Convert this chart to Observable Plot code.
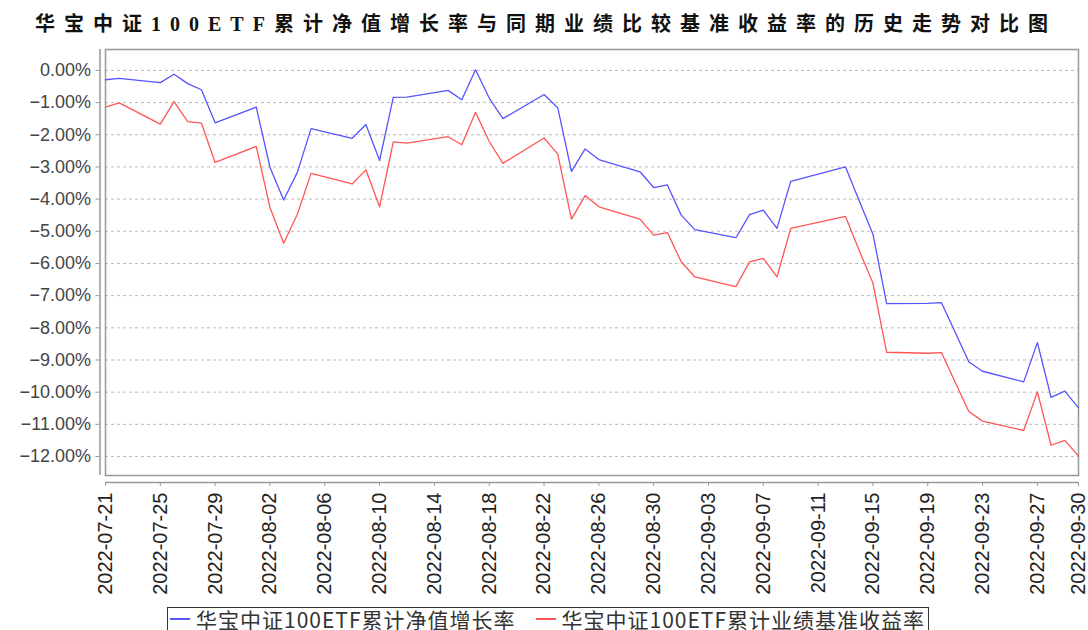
<!DOCTYPE html>
<html>
<head>
<meta charset="utf-8">
<script src="https://cdn.jsdelivr.net/npm/d3@7"></script>
<script src="https://cdn.jsdelivr.net/npm/@observablehq/plot@0.6"></script>
<style>
  html, body { margin: 0; padding: 0; background: #fff; }
  #wrap { position: relative; width: 1088px; height: 630px; overflow: hidden; }
  #title {
    height: 26px; padding-top: 14px; padding-left: 35px;
    font-family: "Liberation Serif", "Noto Sans CJK SC", serif;
    font-weight: 700; font-size: 20px; line-height: 20px; letter-spacing: 9px;
    color: #111; white-space: nowrap;
  }
  #chart svg { display: block; }
  #legend {
    position: absolute; left: 167px; top: 607px; width: 762px; height: 23px;
    border: 1.5px solid #333; border-bottom: none; box-sizing: border-box;
    font-family: "Noto Sans CJK SC", sans-serif; font-size: 21px; line-height: 21px;
    letter-spacing: 1px;
    color: #333; white-space: nowrap; padding: 0 0 0 2px;
  }
  .item { display: inline-flex; align-items: center; position: relative; top: -7px; }
  .sw { display: inline-block; width: 20px; height: 1.6px; margin-right: 6px; }
</style>
</head>
<body>
<div id="wrap">
  <div id="title"></div>
  <div id="chart"></div>
  <div id="legend"></div>
</div>
<script>
const title = "华宝中证100ETF累计净值增长率与同期业绩比较基准收益率的历史走势对比图";
const seriesNames = ["华宝中证100ETF累计净值增长率", "华宝中证100ETF累计业绩基准收益率"];
const seriesColors = ["#5555ff", "#ff5555"];

const dates = [
  "2022-07-21","2022-07-22","2022-07-25","2022-07-26","2022-07-27","2022-07-28","2022-07-29",
  "2022-08-01","2022-08-02","2022-08-03","2022-08-04","2022-08-05",
  "2022-08-08","2022-08-09","2022-08-10","2022-08-11","2022-08-12",
  "2022-08-15","2022-08-16","2022-08-17","2022-08-18","2022-08-19",
  "2022-08-22","2022-08-23","2022-08-24","2022-08-25","2022-08-26",
  "2022-08-29","2022-08-30","2022-08-31","2022-09-01","2022-09-02",
  "2022-09-05","2022-09-06","2022-09-07","2022-09-08","2022-09-09",
  "2022-09-13","2022-09-14","2022-09-15","2022-09-16",
  "2022-09-19","2022-09-20","2022-09-21","2022-09-22","2022-09-23",
  "2022-09-26","2022-09-27","2022-09-28","2022-09-29","2022-09-30"
];

const navGrowth = [
  -0.29,-0.25,-0.38,-0.12,-0.41,-0.60,-1.63,
  -1.14,-3.01,-4.03,-3.17,-1.81,
  -2.11,-1.68,-2.80,-0.84,-0.83,
  -0.62,-0.91,0.02,-0.86,-1.50,
  -0.75,-1.16,-3.14,-2.44,-2.77,
  -3.15,-3.64,-3.56,-4.49,-4.95,
  -5.20,-4.48,-4.34,-4.91,-3.45,
  -3.00,-4.05,-5.09,-7.25,
  -7.24,-7.22,-8.14,-9.06,-9.35,
  -9.68,-8.46,-10.16,-9.97,-10.49
];

const benchReturn = [
  -1.14,-1.01,-1.67,-0.97,-1.59,-1.64,-2.86,
  -2.36,-4.26,-5.37,-4.47,-3.20,
  -3.53,-3.09,-4.24,-2.22,-2.26,
  -2.06,-2.31,-1.30,-2.21,-2.89,
  -2.10,-2.60,-4.62,-3.89,-4.24,
  -4.62,-5.12,-5.04,-5.94,-6.42,
  -6.72,-5.95,-5.84,-6.42,-4.91,
  -4.54,-5.60,-6.61,-8.76,
  -8.79,-8.77,-9.69,-10.60,-10.90,
  -11.19,-9.99,-11.65,-11.50,-11.99
];

const xTickLabels = [
  "2022-07-21","2022-07-25","2022-07-29","2022-08-02","2022-08-06","2022-08-10",
  "2022-08-14","2022-08-18","2022-08-22","2022-08-26","2022-08-30","2022-09-03",
  "2022-09-07","2022-09-11","2022-09-15","2022-09-19","2022-09-23","2022-09-27","2022-09-30"
];
const yTicks = [0,-1,-2,-3,-4,-5,-6,-7,-8,-9,-10,-11,-12];
const yDomain = [-12.59, 0.65];

document.getElementById("title").textContent = title;

const parse = d3.utcParse("%Y-%m-%d");
const data = dates.map((d, i) => ({date: parse(d), nav: navGrowth[i], bench: benchReturn[i]}));
const xTicks = xTickLabels.map(parse);
const xDomain = [parse(dates[0]), parse(dates[dates.length - 1])];

const fmtY = d => (d < 0 ? "\u2212" : "") + Math.abs(d).toFixed(2) + "%";

const chart = Plot.plot({
  width: 1088,
  height: 565,
  marginLeft: 105,
  marginRight: 10,
  marginTop: 9,
  marginBottom: 130,
  style: {fontFamily: "'Liberation Sans', Arial, sans-serif", background: "#fff", overflow: "visible"},
  x: {type: "utc", domain: xDomain},
  y: {domain: yDomain},
  marks: [
    Plot.gridY(yTicks, {stroke: "#bbb", strokeOpacity: 1, strokeDasharray: "3,3", strokeWidth: 1}),
    Plot.frame({stroke: "#999", strokeWidth: 1.5}),
    Plot.ruleX([xDomain[0]], {dx: -5.5, stroke: "#999", strokeWidth: 1.5}),
    Plot.ruleY([yDomain[0]], {dy: 7, stroke: "#999", strokeWidth: 1.5}),
    Plot.axisY(yTicks, {
      tickFormat: fmtY, dx: -5.5, tickSize: 4, tickPadding: 5,
      fontSize: 18, fill: "#444", stroke: "#999", label: null
    }),
    Plot.axisX(xTicks, {
      tickFormat: d3.utcFormat("%Y-%m-%d"), tickRotate: -90, dy: 7, tickSize: 4, tickPadding: 6,
      fontSize: 20, fill: "#222", stroke: "#999", label: null
    }),
    Plot.lineY(data, {x: "date", y: "nav", stroke: seriesColors[0], strokeWidth: 1.3}),
    Plot.lineY(data, {x: "date", y: "bench", stroke: seriesColors[1], strokeWidth: 1.3})
  ]
});
document.getElementById("chart").appendChild(chart);

const legend = document.getElementById("legend");
seriesNames.forEach((name, i) => {
  const item = document.createElement("span");
  item.className = "item";
  if (i > 0) item.style.marginLeft = "20px";
  const sw = document.createElement("span");
  sw.className = "sw";
  sw.style.background = seriesColors[i];
  const t = document.createElement("span");
  t.textContent = name;
  item.appendChild(sw);
  item.appendChild(t);
  legend.appendChild(item);
});
</script>
</body>
</html>
